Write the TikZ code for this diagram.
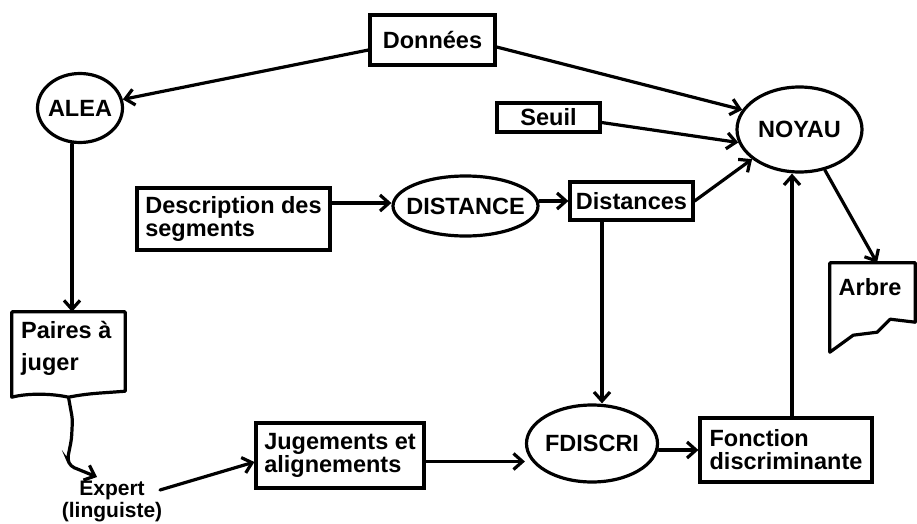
\documentclass[tikz,border=0pt]{standalone}
\usepackage{fontspec}
\setmainfont{Liberation Sans}
\usetikzlibrary{arrows.meta,shapes.geometric}
\begin{document}
\begin{tikzpicture}[x=1pt,y=-1pt,
  every node/.style={font=\bfseries\fontsize{23.5}{23}\selectfont, inner sep=0pt},
  lw/.style={line width=3.2pt},
  box/.style={draw, lw, rectangle, align=left},
  ell/.style={draw, lw, ellipse},
  arr/.style={lw, line cap=round, -{Straight Barb[length=9pt,width=16pt]}},
  ghost/.style={rectangle}
]
\useasboundingbox (0,0) rectangle (917,524);

% boxes
\node[box, minimum width=125pt, minimum height=50pt] (donnees) at (432.5,40) {Données};
\node[box, minimum width=103pt, minimum height=29pt] (seuil) at (548.5,117.5) {Seuil};
\node[box, minimum width=193pt, minimum height=62pt] (desc) at (233.5,219) {Description des\\segments};
\node[box, minimum width=123pt, minimum height=38pt] (distances) at (631.5,201) {Distances};
\node[box, minimum width=168pt, minimum height=65pt] (jug) at (340,455.5) {Jugements et\\alignements};
\node[box, minimum width=172pt, minimum height=64pt] (fonction) at (786,450) {Fonction\\discriminante};

% ellipses
\node[ell, minimum width=85pt, minimum height=69pt] (alea) at (80,108) {\makebox[0pt]{ALEA}};
\node[ell, minimum width=145pt, minimum height=60pt] (distance) at (465.5,206) {\makebox[0pt]{DISTANCE}};
\node[ell, minimum width=125pt, minimum height=85pt] (noyau) at (799.5,129.5) {\makebox[0pt]{NOYAU}};
\node[ell, minimum width=131pt, minimum height=77pt] (fdiscri) at (592,443.5) {\makebox[0pt]{FDISCRI}};

% document shapes
\node[ghost, minimum width=113pt, minimum height=85pt] (paires) at (68.5,354.5) {};
\draw[lw, line join=round] (paires.south west) -- (paires.north west) -- (paires.north east)
  -- ([yshift=6pt]paires.south east) .. controls +(-25,2) and +(20,-4) .. (paires.south)
  .. controls +(-18,-4) and +(15,-4) .. (paires.south west) -- cycle;
\node[anchor=north west, align=left] (pairestxt) at (21,321) {Paires à\\[9pt]juger};

\node[ghost, minimum width=85pt, minimum height=89pt] (arbre) at (872.5,307.5) {};
\draw[lw, line join=round] (arbre.south west) -- (arbre.north west) -- (arbre.north east)
  -- ([yshift=30pt]arbre.south east) -- ++(-25,-3) -- ++(-13,13) -- ++(-24,3) -- (arbre.south west) -- cycle;
\node[anchor=base] (arbretxt) at (870,295) {Arbre};

% expert
\node[align=center, anchor=north, font=\bfseries\fontsize{21}{22}\selectfont] (expert) at (112,481) {Expert\\(linguiste)};
\coordinate (exptip) at (97,477);
\coordinate (expout) at (160,490);

% connectors
\draw[arr] ([yshift=-10pt]donnees.west) -- (alea);
\draw[arr] ([yshift=-7pt]donnees.east) -- (noyau.161);
\draw[arr] ([yshift=-5pt]seuil.east) -- (noyau.192);
\draw[arr] (distances.east) -- (noyau.212);
\draw[arr] ([yshift=16pt]desc.east) -- ([yshift=3pt]distance.west);
\draw[arr] (distances.west -| distance.east) -- (distances.west);
\draw[arr] ([xshift=-29.5pt]distances.south) -- ([xshift=-29.5pt]distances.south |- fdiscri.north);
\draw[arr] ([xshift=-8pt]alea.south) -- ([xshift=-8pt]alea.south |- paires.north);
\draw[arr, rounded corners=4pt] (paires.south) -- ++(4,22) -- ++(-1,20) -- ++(-4,20) -- ++(3,7) -- (exptip);
\draw[arr] (expout) -- ([yshift=-6.5pt]jug.west);
\draw[arr] ([yshift=-6pt]jug.east) -- ([yshift=-6pt]jug.east -| fdiscri.west);
\draw[arr] (fonction.west -| fdiscri.east) -- (fonction.west);
\draw[arr] ([xshift=6pt]fonction.north) -- ([xshift=6pt]fonction.north |- noyau.south);
\draw[arr] (noyau.302) -- ([xshift=4.5pt]arbre.north);
\end{tikzpicture}
\end{document}
